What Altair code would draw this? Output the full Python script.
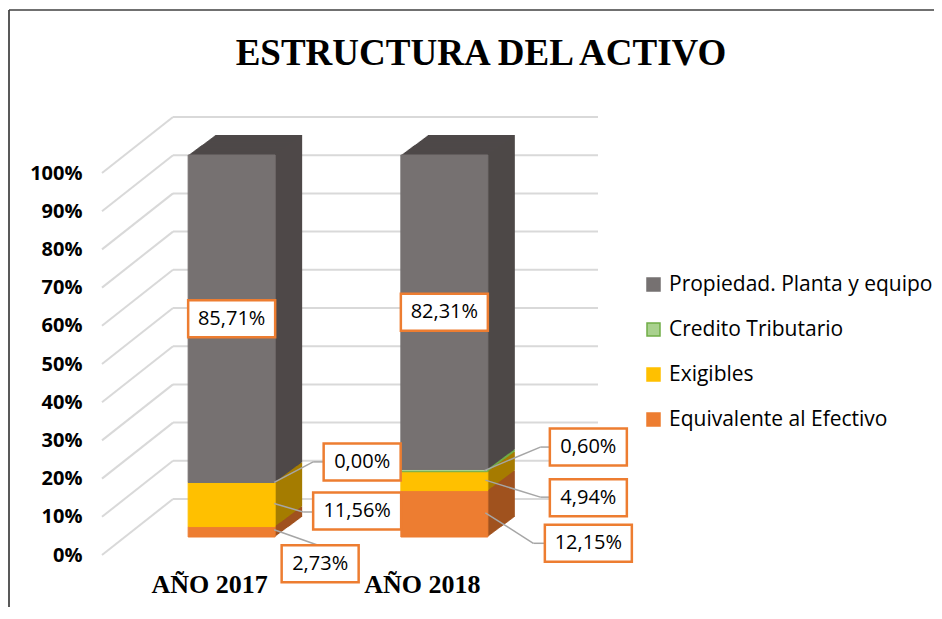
import altair as alt
import pandas as pd

# ---------------- data ----------------
YEARS = ["AÑO 2017", "AÑO 2018"]
CUENTAS = ["Equivalente al Efectivo", "Exigibles", "Credito Tributario", "Propiedad. Planta y equipo"]  # bottom -> top
V2017 = [2.73, 11.56, 0.00, 85.71]
V2018 = [12.15, 4.94, 0.60, 82.31]
Y_TICKS = [0, 10, 20, 30, 40, 50, 60, 70, 80, 90, 100]
TITLE = "ESTRUCTURA DEL ACTIVO"
LEGEND_ORDER = ["Propiedad. Planta y equipo", "Credito Tributario", "Exigibles", "Equivalente al Efectivo"]

# ---------------- styles ----------------
FILL = {"Propiedad. Planta y equipo": "#767171", "Credito Tributario": "#A9D18E",
        "Exigibles": "#FFC000", "Equivalente al Efectivo": "#ED7D31"}
STROKE = {"Propiedad. Planta y equipo": "#767171", "Credito Tributario": "#70AD47",
          "Exigibles": "#FFC000", "Equivalente al Efectivo": "#ED7D31"}
SIDE = {"Propiedad. Planta y equipo": "#4E4948", "Credito Tributario": "#70AD47",
        "Exigibles": "#A67C00", "Equivalente al Efectivo": "#A0521F"}
BAR_W = 87
DEPTH_X, DEPTH_Y = 27, 20
GRID_BACK = -38
LABEL_FRONT = 18
ORANGE = "#ED7D31"
LEADER = "#A6A6A6"

# label layout: (year, cuenta) -> box offset, box width, leader path (relative to bar centre / segment middle)
LABELS = [
    ("AÑO 2017", "Propiedad. Planta y equipo", (0, 0), 87, None),
    ("AÑO 2018", "Propiedad. Planta y equipo", (0, 0), 87, None),
    ("AÑO 2017", "Credito Tributario", (130.5, -20.5), 77, [(42.5, 0), (81.5, -20.5), (92, -20.5)]),
    ("AÑO 2017", "Exigibles", (125.5, 6.5), 88, [(42.5, -1), (71.5, 7.5), (81.5, 7.5)]),
    ("AÑO 2017", "Equivalente al Efectivo", (88.5, 32), 77, [(42.5, -2), (86.5, 13.5)]),
    ("AÑO 2018", "Credito Tributario", (144, -23.5), 77, [(40, 0), (96, -23.5), (106, -23.5)]),
    ("AÑO 2018", "Exigibles", (144, 16.5), 77, [(41, -1), (96, 16), (106, 16)]),
    ("AÑO 2018", "Equivalente al Efectivo", (144, 29.5), 87, [(41, -1), (89, 29.5), (101, 29.5)]),
]
BOX_H = 37

rows = []
for year, vals in zip(YEARS, [V2017, V2018]):
    base = 0.0
    for c, v in zip(CUENTAS, vals):
        rows.append(dict(year=year, cuenta=c, value=v, y0=base, y1=base + v, mid=base + v / 2,
                         label=f"{v:.2f}".replace(".", ",") + "%", side=SIDE[c]))
        base += v
df = pd.DataFrame(rows)
grid_df = pd.DataFrame({"tick": Y_TICKS})

x_scale = alt.Scale(domain=YEARS, paddingInner=0.5, paddingOuter=0.369)
y_scale = alt.Scale(domain=[0, 100], nice=False, zero=True)

y_axis = alt.Axis(values=Y_TICKS, labelExpr="datum.value + '%'", labelFont="Open Sans",
                  labelFontSize=20, labelFontWeight="bold", labelColor="#000000",
                  labelPadding=18, labelOffset=LABEL_FRONT, title=None, grid=False,
                  domain=False, ticks=False)
x_axis = alt.Axis(title=None, labelFont="Liberation Serif", labelFontSize=26,
                  labelFontWeight="bold", labelColor="#000000", labelOffset=-22,
                  labelPadding=34, labelAngle=0, domain=False, ticks=False)


def X():
    return alt.X("year:N", scale=x_scale, axis=x_axis)


def Y(field):
    return alt.Y(field, scale=y_scale, axis=y_axis)


base = alt.Chart(df)
layers = []

# back wall gridlines
layers.append(
    alt.Chart(grid_df).mark_rule(color="#D9D9D9", strokeWidth=2, yOffset=GRID_BACK)
    .encode(x=alt.value(73), x2=alt.value(498), y=Y("tick:Q"))
)
# floor/side diagonals
layers.append(
    alt.Chart(grid_df).mark_rule(color="#D9D9D9", strokeWidth=2, yOffset=LABEL_FRONT, y2Offset=GRID_BACK)
    .encode(x=alt.value(2), x2=alt.value(73), y=Y("tick:Q"), y2="tick:Q")
)

# 3D extrusion (side/top faces)
for d in range(DEPTH_X, 0, -1):
    oy = -d * DEPTH_Y / DEPTH_X
    layers.append(
        base.mark_bar(size=BAR_W, xOffset=d, x2Offset=d, yOffset=oy, y2Offset=oy)
        .encode(x=X(), y=Y("y0:Q"), y2="y1:Q",
                fill=alt.Fill("side:N", scale=None))
    )

# front faces
layers.append(
    base.mark_bar(size=BAR_W, strokeWidth=1)
    .encode(
        x=X(),
        y=Y("y0:Q"),
        y2="y1:Q",
        fill=alt.Fill("cuenta:N", scale=alt.Scale(domain=LEGEND_ORDER, range=[FILL[c] for c in LEGEND_ORDER]),
                      legend=alt.Legend(title=None)),
        stroke=alt.Stroke("cuenta:N", scale=alt.Scale(domain=LEGEND_ORDER, range=[STROKE[c] for c in LEGEND_ORDER]),
                          legend=alt.Legend(title=None)),
    )
)

# data labels
for year, cuenta, (bx, by), w, path in LABELS:
    sub = base.transform_filter(f"datum.year === '{year}' && datum.cuenta === '{cuenta}'")
    if path:
        for (sx, sy), (ex, ey) in zip(path[:-1], path[1:]):
            layers.append(
                sub.mark_rule(color=LEADER, strokeWidth=1.5, xOffset=sx, x2Offset=ex, yOffset=sy, y2Offset=ey)
                .encode(x=X(), x2="year:N", y=Y("mid:Q"), y2="mid:Q")
            )
    r = BOX_H / w
    shape = f"M-1,{-r}L1,{-r}L1,{r}L-1,{r}Z"
    layers.append(
        sub.mark_point(shape=shape, size=w * w, filled=True, fill="white", fillOpacity=1,
                       stroke=ORANGE, strokeWidth=2.5, strokeOpacity=1, opacity=1,
                       xOffset=bx, yOffset=by)
        .encode(x=X(), y=Y("mid:Q"))
    )
    layers.append(
        sub.mark_text(font="Open Sans", fontSize=20, color="#000000", align="center",
                      baseline="middle", xOffset=bx, yOffset=by)
        .encode(x=X(), y=Y("mid:Q"), text="label:N")
    )

# title as text
layers.append(
    alt.Chart(pd.DataFrame({"t": [TITLE]})).mark_text(
        font="Liberation Serif", fontSize=37, fontWeight="bold", color="#000000",
        align="center", baseline="alphabetic")
    .encode(x=alt.value(381), y=alt.value(-90), text="t:N")
)

# outer frame
frame_df = pd.DataFrame({"a": [0]})
layers.append(
    alt.Chart(frame_df).mark_rule(color="#595959", strokeWidth=2)
    .encode(x=alt.value(-91), y=alt.value(-145), y2=alt.value(470))
)
layers.append(
    alt.Chart(frame_df).mark_rule(color="#404040", strokeWidth=1.5)
    .encode(x=alt.value(-91), x2=alt.value(845), y=alt.value(-145))
)

chart = (
    alt.layer(*layers)
    .properties(width=476, height=382,
                autosize=alt.AutoSizeParams(type="none"),
                padding={"left": 92, "top": 147, "right": 358, "bottom": 70})
    .configure_view(stroke=None)
    .configure_axis(grid=False)
    .configure_legend(orient="none", legendX=543, legendY=119, symbolType="square",
                      symbolSize=169, symbolStrokeWidth=1.5, labelFont="Open Sans",
                      labelFontSize=21, labelColor="#000000", rowPadding=23, labelOffset=5,
                      padding=0, labelLimit=400)
)

chart.save("out.html", embed_options={"renderer": "svg", "actions": False})
